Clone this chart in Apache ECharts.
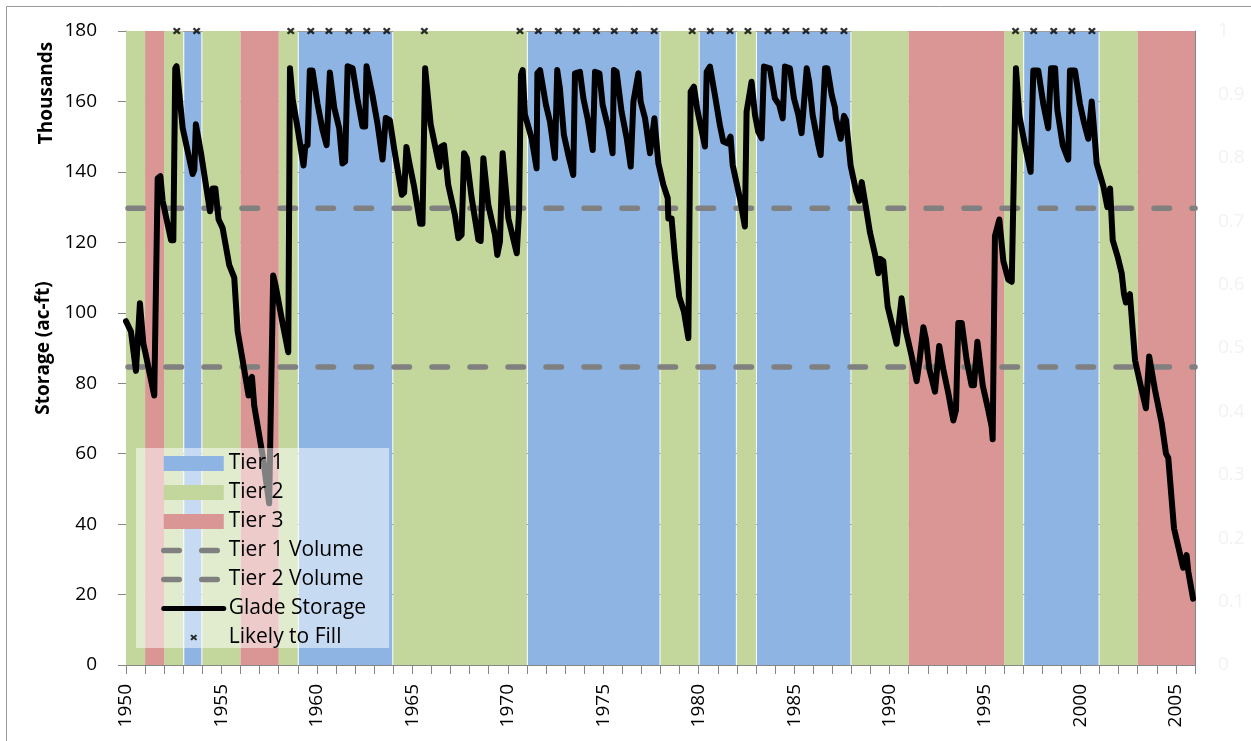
<!DOCTYPE html>
<html>
<head>
<meta charset="utf-8">
<title>Glade Storage</title>
<script src="https://cdn.jsdelivr.net/npm/echarts@6/dist/echarts.min.js"></script>
<style>
  html, body { margin: 0; padding: 0; background: #fff; }
  #chart { width: 1251px; height: 741px; }
</style>
</head>
<body>
<div id="chart"></div>
<script>
// x range (years)
var xMin = 1950;
var xMax = 2006;

// tier bands
var bandStart = [1950, 1951, 1952, 1953, 1954, 1956, 1958, 1959, 1964, 1971, 1978, 1980, 1982, 1983, 1988, 1991, 1996, 1997, 2001, 2003];
var bandEnd   = [1951, 1952, 1953, 1954, 1956, 1958, 1959, 1964, 1971, 1978, 1980, 1982, 1983, 1988, 1991, 1996, 1997, 2001, 2003, 2006];
var bandTier  = [2, 3, 2, 1, 2, 3, 2, 1, 2, 1, 2, 1, 2, 1, 2, 3, 2, 1, 2, 3];

var tierNames = ['Tier 1', 'Tier 2', 'Tier 3'];
var tierColors = ['#8db4e2', '#c3d69b', '#d99694'];

// trigger volumes (thousand ac-ft)
var tier1Volume = 129.7;
var tier2Volume = 84.6;

// Glade storage (thousand ac-ft)
var storageYear = [
  1950.00, 1950.26, 1950.52, 1950.73, 1950.91, 1951.01, 1951.48, 1951.66, 1951.80, 1951.92,
  1952.36, 1952.48, 1952.58, 1952.65, 1952.97, 1953.49, 1953.58, 1953.66, 1953.93, 1954.40,
  1954.54, 1954.68, 1954.85, 1955.06, 1955.41, 1955.67, 1955.85, 1956.11, 1956.42, 1956.49,
  1956.60, 1956.72, 1957.16, 1957.50, 1957.71, 1957.82, 1958.20, 1958.50, 1958.59, 1958.73,
  1958.99, 1959.16, 1959.30, 1959.39, 1959.51, 1959.63, 1959.77, 1960.03, 1960.30, 1960.51,
  1960.68, 1960.91, 1961.17, 1961.34, 1961.48, 1961.61, 1961.87, 1962.13, 1962.39, 1962.53,
  1962.60, 1962.91, 1963.18, 1963.44, 1963.61, 1963.82, 1964.05, 1964.45, 1964.57, 1964.69,
  1964.83, 1965.09, 1965.41, 1965.53, 1965.67, 1965.96, 1966.42, 1966.50, 1966.66, 1966.88,
  1967.23, 1967.41, 1967.58, 1967.71, 1967.85, 1968.11, 1968.46, 1968.58, 1968.72, 1968.98,
  1969.33, 1969.45, 1969.59, 1969.73, 1970.03, 1970.47, 1970.59, 1970.69, 1970.78, 1970.90,
  1971.25, 1971.51, 1971.55, 1971.69, 1972.00, 1972.21, 1972.47, 1972.59, 1972.73, 1972.94,
  1973.17, 1973.43, 1973.52, 1973.78, 1973.96, 1974.18, 1974.45, 1974.57, 1974.80, 1974.97,
  1975.27, 1975.49, 1975.56, 1975.70, 1975.96, 1976.23, 1976.44, 1976.58, 1976.84, 1976.96,
  1977.19, 1977.45, 1977.68, 1977.89, 1978.15, 1978.38, 1978.41, 1978.58, 1978.76, 1978.98,
  1979.23, 1979.46, 1979.58, 1979.75, 1979.93, 1980.33, 1980.42, 1980.59, 1980.85, 1981.11,
  1981.29, 1981.50, 1981.67, 1981.78, 1982.16, 1982.42, 1982.51, 1982.77, 1982.95, 1983.12,
  1983.30, 1983.42, 1983.73, 1983.99, 1984.22, 1984.40, 1984.52, 1984.78, 1984.99, 1985.22,
  1985.39, 1985.66, 1985.79, 1985.97, 1986.27, 1986.39, 1986.62, 1986.74, 1986.97, 1987.14,
  1987.19, 1987.44, 1987.61, 1987.72, 1987.96, 1988.24, 1988.41, 1988.54, 1988.76, 1988.97,
  1989.24, 1989.41, 1989.50, 1989.67, 1989.90, 1990.11, 1990.37, 1990.63, 1990.86, 1991.16,
  1991.42, 1991.56, 1991.77, 1991.91, 1992.08, 1992.38, 1992.60, 1992.81, 1993.08, 1993.34,
  1993.48, 1993.60, 1993.78, 1994.04, 1994.30, 1994.42, 1994.60, 1994.88, 1995.17, 1995.35,
  1995.40, 1995.52, 1995.75, 1995.96, 1996.22, 1996.40, 1996.62, 1996.80, 1997.09, 1997.39,
  1997.53, 1997.79, 1998.05, 1998.31, 1998.46, 1998.67, 1998.79, 1999.07, 1999.36, 1999.45,
  1999.71, 1999.97, 2000.18, 2000.41, 2000.59, 2000.71, 2000.85, 2001.20, 2001.41, 2001.55,
  2001.69, 2001.95, 2002.16, 2002.28, 2002.38, 2002.59, 2002.86, 2003.15, 2003.43, 2003.60,
  2003.90, 2004.25, 2004.48, 2004.60, 2004.90, 2005.38, 2005.56, 2005.65, 2005.90
];
var storageValue = [
  97.6, 94.7, 83.5, 102.7, 91.2, 88.8, 76.5, 138.2, 138.8, 131.8,
  120.6, 120.6, 169.4, 170.0, 152.4, 139.4, 140.6, 153.5, 145.3, 128.8,
  135.3, 135.3, 126.5, 124.1, 113.5, 110.0, 94.7, 86.5, 76.5, 80.6,
  81.8, 73.5, 59.4, 45.9, 110.6, 108.2, 97.1, 88.8, 169.4, 160.6,
  152.4, 146.5, 141.8, 147.1, 147.6, 168.8, 168.8, 159.4, 151.8, 147.6,
  168.2, 158.2, 152.4, 142.4, 143.0, 170.0, 169.4, 160.6, 152.9, 152.9,
  170.0, 161.8, 153.5, 143.5, 155.3, 154.7, 146.5, 133.5, 134.1, 147.1,
  142.9, 135.9, 125.3, 125.3, 169.4, 153.5, 141.4, 147.1, 147.6, 136.3,
  127.8, 121.2, 122.1, 145.3, 143.9, 132.5, 120.7, 120.4, 143.9, 130.6,
  122.1, 116.4, 120.2, 145.3, 126.8, 116.9, 128.7, 167.5, 168.9, 156.2,
  149.5, 141.0, 168.0, 168.9, 159.0, 154.3, 143.9, 168.9, 163.7, 150.5,
  144.8, 139.1, 168.0, 168.4, 160.9, 155.2, 146.2, 168.4, 168.0, 159.0,
  152.4, 145.3, 168.9, 168.4, 157.1, 149.5, 141.5, 159.9, 168.0, 159.9,
  155.2, 145.3, 155.2, 142.4, 136.3, 132.5, 126.8, 126.8, 115.5, 104.6,
  100.3, 92.8, 162.8, 164.2, 157.6, 147.2, 168.4, 169.9, 161.8, 153.3,
  148.6, 148.1, 150.0, 142.0, 132.5, 124.5, 157.1, 165.6, 156.2, 151.4,
  149.5, 169.9, 169.4, 160.9, 159.0, 155.2, 169.9, 169.4, 160.9, 156.2,
  151.0, 169.4, 165.6, 156.2, 147.6, 144.8, 169.4, 169.4, 161.8, 158.2,
  155.3, 149.4, 155.9, 154.7, 141.8, 134.7, 131.8, 137.1, 130.0, 122.9,
  116.5, 111.2, 115.3, 114.7, 101.8, 97.1, 91.2, 104.1, 94.7, 87.6,
  80.6, 85.9, 95.9, 92.4, 84.1, 77.6, 90.6, 84.1, 77.1, 69.4,
  72.4, 97.1, 97.1, 86.5, 79.4, 79.4, 91.8, 79.4, 72.4, 67.6,
  64.1, 121.8, 126.5, 114.7, 109.4, 108.8, 169.4, 155.9, 147.6, 140.0,
  168.8, 168.8, 159.4, 152.4, 169.4, 169.4, 157.6, 147.6, 143.5, 168.8,
  168.8, 159.4, 154.1, 149.4, 160.0, 152.4, 142.4, 135.9, 130.0, 135.3,
  120.6, 115.9, 111.2, 105.3, 102.9, 105.3, 86.5, 79.4, 72.9, 87.6,
  78.2, 68.8, 60.0, 58.8, 38.8, 27.6, 31.2, 26.5, 18.8
];

// "likely to fill" markers, drawn at the top of the scale
var fillYear = [
  1952.66, 1953.70, 1958.63, 1959.68, 1960.63, 1961.67, 1962.61, 1963.66, 1965.63,
  1970.64, 1971.60, 1972.65, 1973.60, 1974.64, 1975.58, 1976.63, 1977.67,
  1979.66, 1980.61, 1981.64, 1982.58, 1983.63, 1984.57, 1985.62, 1986.56, 1987.61,
  1996.60, 1997.55, 1998.60, 1999.55, 2000.60
];
var fillLevel = 180;

var font = 'Open Sans';
var axisGray = '#868686';
var dash = [15.5, 22.5];

var markPath = 'M0,2.2L2.2,0L5,2.8L7.8,0L10,2.2L7.2,5L10,7.8L7.8,10L5,7.2L2.2,10L0,7.8L2.8,5Z';
// same mark, small and centred in a 60x15 legend box
var markLegendPath = 'M0,0L0.01,0M60,15L59.99,15' +
  'M26.5,5.82L28.04,4.5L30,6.18L31.96,4.5L33.5,5.82L31.54,7.5L33.5,9.18L31.96,10.5L30,8.82L28.04,10.5L26.5,9.18L28.46,7.5Z';

function bandSeries(tier) {
  var data = [];
  for (var i = 0; i < bandStart.length; i++) {
    if (bandTier[i] == tier) data.push([bandStart[i], bandEnd[i]]);
  }
  return {
    name: tierNames[tier - 1],
    type: 'custom',
    z: 1,
    itemStyle: {color: tierColors[tier - 1]},
    encode: {x: [0, 1]},
    data: data,
    renderItem: function (params, api) {
      var p0 = api.coord([api.value(0), 180]);
      var p1 = api.coord([api.value(1), 0]);
      // tier 1 columns sit a pixel inside, so the grid shows at their edges
      var inset = tier == 1 ? 1 : 0;
      return {
        type: 'rect',
        shape: {
          x: p0[0] + inset,
          y: p0[1] + inset,
          width: p1[0] - p0[0] - 2 * inset,
          height: p1[1] - p0[1] - inset
        },
        style: {fill: api.visual('color')}
      };
    }
  };
}

function volumeSeries(name, value) {
  return {
    name: name,
    type: 'line',
    z: 3,
    symbol: 'none',
    data: [[xMin, value], [xMax, value]],
    itemStyle: {color: '#808080'},
    lineStyle: {color: '#808080', width: 5.5, type: dash, dashOffset: -2, cap: 'round'}
  };
}

var chart = echarts.init(document.getElementById('chart'));

var option = {
  animation: false,
  backgroundColor: '#fff',
  textStyle: {fontFamily: font},
  grid: {left: 126, right: 56, top: 31, bottom: 76},
  graphic: [
    {
      type: 'rect',
      shape: {x: 6.5, y: 6.5, width: 1400, height: 900},
      style: {fill: 'none', stroke: '#9a9a9a', lineWidth: 1},
      silent: true
    },
    {
      type: 'text',
      x: 47,
      y: 93,
      rotation: Math.PI / 2,
      style: {
        text: 'Thousands',
        x: 0, y: 0,
        align: 'center',
        verticalAlign: 'middle',
        font: 'bold 19px "Open Sans"',
        fill: '#000'
      },
      silent: true
    }
  ],
  legend: {
    orient: 'vertical',
    left: 136,
    top: 448,
    padding: [5, 23, 0, 25],
    itemWidth: 60,
    itemHeight: 15,
    itemGap: 8,
    backgroundColor: 'rgba(255,255,255,0.5)',
    selectedMode: false,
    textStyle: {fontFamily: font, fontSize: 21, color: '#000', lineHeight: 20},
    data: [
      {name: 'Tier 1', icon: 'rect'},
      {name: 'Tier 2', icon: 'rect'},
      {name: 'Tier 3', icon: 'rect'},
      {name: 'Tier 1 Volume', itemStyle: {opacity: 0},
        lineStyle: {width: 5.5, type: dash, dashOffset: 0, cap: 'round'}},
      {name: 'Tier 2 Volume', itemStyle: {opacity: 0},
        lineStyle: {width: 5.5, type: dash, dashOffset: 0, cap: 'round'}},
      {name: 'Glade Storage', itemStyle: {opacity: 0},
        lineStyle: {width: 5, cap: 'round'}},
      {name: 'Likely to Fill', icon: 'path://' + markLegendPath}
    ]
  },
  xAxis: {
    type: 'value',
    min: xMin,
    max: xMax,
    interval: 1,
    axisLine: {lineStyle: {color: axisGray}},
    axisTick: {length: 9, lineStyle: {color: axisGray}},
    splitLine: {show: false},
    axisLabel: {
      rotate: 90,
      margin: 19,
      fontSize: 19,
      fontFamily: font,
      color: '#000',
      padding: [7, 0, 0, 0],
      formatter: function (v) { return v % 5 === 0 ? String(v) : ''; }
    }
  },
  yAxis: [
    {
      type: 'value',
      min: 0,
      max: 180,
      interval: 20,
      name: 'Storage (ac-ft)',
      nameLocation: 'middle',
      nameGap: 63,
      nameTextStyle: {fontFamily: font, fontSize: 19, fontWeight: 'bold', color: '#000'},
      axisLine: {show: true, lineStyle: {color: axisGray}},
      axisTick: {show: true, length: 8, lineStyle: {color: axisGray}},
      axisLabel: {margin: 29, fontSize: 19, fontFamily: font, color: '#000'},
      splitLine: {show: true, lineStyle: {color: '#9c9c9c'}}
    },
    {
      type: 'value',
      min: 0,
      max: 1,
      interval: 0.1,
      position: 'right',
      axisLine: {show: true, lineStyle: {color: axisGray}},
      axisTick: {show: false},
      axisLabel: {margin: 23, fontSize: 19, fontFamily: font, color: '#f2f2f2'},
      splitLine: {show: false}
    }
  ],
  series: [
    bandSeries(1),
    bandSeries(2),
    bandSeries(3),
    volumeSeries('Tier 1 Volume', tier1Volume),
    volumeSeries('Tier 2 Volume', tier2Volume),
    {
      name: 'Glade Storage',
      type: 'line',
      z: 3,
      symbol: 'none',
      data: storageYear.map(function (y, i) { return [y, storageValue[i]]; }),
      itemStyle: {color: '#000'},
      lineStyle: {color: '#000', width: 6, join: 'round', cap: 'round'}
    },
    {
      name: 'Likely to Fill',
      type: 'scatter',
      z: 5,
      symbol: 'path://' + markPath,
      symbolSize: [8, 7],
      data: fillYear.map(function (y) { return [y, fillLevel]; }),
      itemStyle: {color: '#000'}
    }
  ]
};

chart.setOption(option);
</script>
</body>
</html>
